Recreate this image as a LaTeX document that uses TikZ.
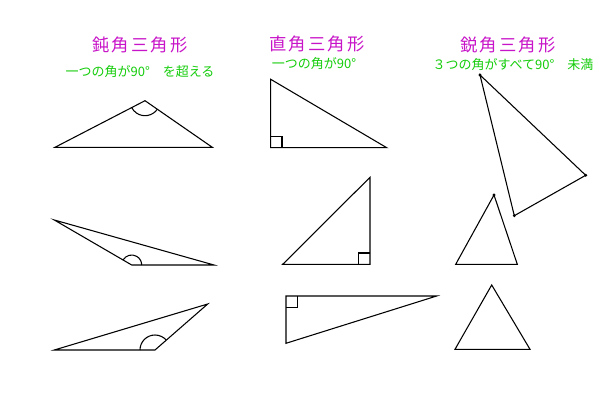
\documentclass[tikz,border=0pt]{standalone}
\usepackage{fontspec}
\newfontfamily\jp{Noto Sans CJK JP}
\newfontfamily\jpsp[LetterSpace=13]{Noto Sans CJK JP}
\definecolor{ttl}{RGB}{200,20,200}
\definecolor{sub}{RGB}{20,205,10}
\begin{document}
\begin{tikzpicture}[x=0.75pt,y=-0.75pt,
  tri/.style={draw=black,line width=0.8pt,line join=miter},
  anglemark/.style={draw=black,line width=0.8pt},
  vdot/.style={fill=black,draw=none},
  titletext/.style={text=ttl,font=\jpsp\fontsize{13}{15}\selectfont,inner sep=0pt},
  subtext/.style={text=sub,font=\jp\fontsize{9.75}{12}\selectfont,inner sep=0pt}]
\useasboundingbox[fill=white] (0,0) rectangle (600,413);

% titles
\node[titletext] (t1) at (140,45) {鈍角三角形};
\node[subtext] (s1) at (140,71.5) {一つの角が90°　を超える};
\node[titletext] (t2) at (317,44) {直角三角形};
\node[subtext] (s2) at (314,63.5) {一つの角が90°};
\node[titletext] (t3) at (508,45) {鋭角三角形};
\node[subtext] (s3) at (513,64.5) {３つの角がすべて90°　未満};

% obtuse 1
\coordinate (oa1) at (55,147.3);
\coordinate (ob1) at (145,100.7);
\coordinate (oc1) at (212.3,147.3);
\draw[tri] (oa1) -- (ob1) -- (oc1) -- cycle;
\draw[anglemark] (ob1) ++(34.7:15) arc[start angle=34.7,end angle=152.6,radius=15];

% obtuse 2
\coordinate (oa2) at (54.3,220);
\coordinate (ob2) at (131.7,265);
\coordinate (oc2) at (214,265);
\draw[tri] (oa2) -- (ob2) -- (oc2) -- cycle;
\draw[anglemark] (ob2) ++(210.2:10) arc[start angle=210.2,end angle=360,radius=10];

% obtuse 3
\coordinate (oa3) at (54.3,350);
\coordinate (ob3) at (155,350);
\coordinate (oc3) at (207.7,304);
\draw[tri] (oa3) -- (ob3) -- (oc3) -- cycle;
\draw[anglemark] (ob3) ++(180:15) arc[start angle=180,end angle=318.9,radius=15];

% right 1
\coordinate (ra1) at (270.7,79.3);
\coordinate (rb1) at (270.7,147.7);
\coordinate (rc1) at (386.7,147.7);
\draw[tri] (ra1) -- (rb1) -- (rc1) -- cycle;
\draw[anglemark] (270.7,136.4) -- (282,136.4) -- (282,147.7);

% right 2
\coordinate (ra2) at (370,177.3);
\coordinate (rb2) at (370,264.3);
\coordinate (rc2) at (282.7,264.3);
\draw[tri] (ra2) -- (rb2) -- (rc2) -- cycle;
\draw[anglemark] (370,253) -- (358.7,253) -- (358.7,264.3);

% right 3
\coordinate (ra3) at (286,296);
\coordinate (rb3) at (436.7,296);
\coordinate (rc3) at (286,343.3);
\draw[tri] (ra3) -- (rb3) -- (rc3) -- cycle;
\draw[anglemark] (286,307.3) -- (297.3,307.3) -- (297.3,296);

% acute 1
\coordinate (aa1) at (480,75);
\coordinate (ab1) at (585.7,175.3);
\coordinate (ac1) at (514.3,215.7);
\draw[tri] (aa1) -- (ab1) -- (ac1) -- cycle;
\foreach \p in {aa1,ab1,ac1} \fill[vdot] (\p) circle[radius=1.6];

% acute 2
\coordinate (aa2) at (494,195);
\coordinate (ab2) at (517.3,264.3);
\coordinate (ac2) at (455.7,264.3);
\draw[tri] (aa2) -- (ab2) -- (ac2) -- cycle;
\fill[vdot] (aa2) circle[radius=1.6];

% acute 3
\coordinate (aa3) at (491.7,285);
\coordinate (ab3) at (530,349.3);
\coordinate (ac3) at (455,349.3);
\draw[tri] (aa3) -- (ab3) -- (ac3) -- cycle;
\end{tikzpicture}
\end{document}
